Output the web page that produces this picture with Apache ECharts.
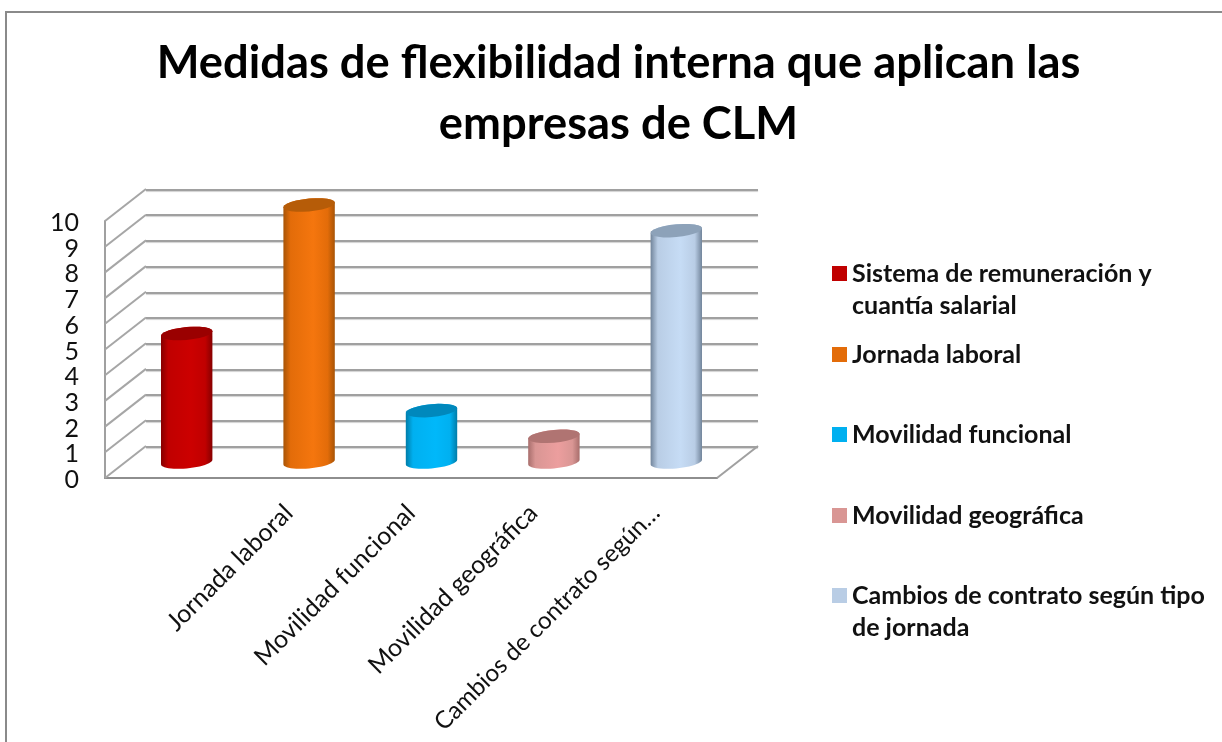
<!DOCTYPE html>
<html><head><meta charset="utf-8">
<style>html,body{margin:0;padding:0;background:#fff}#c{width:1222px;height:742px}</style>
<script src="https://cdn.jsdelivr.net/npm/echarts@6/dist/echarts.min.js"></script>
</head><body><div id="c"></div>
<script>
const categories = ['Sistema de remuneración y cuantía salarial','Jornada laboral','Movilidad funcional','Movilidad geográfica','Cambios de contrato según tipo de jornada'];
const values = [5, 10, 2, 1, 9];
const tickLabels = ['', '{a|Jornada laboral}', '{a|Movilidad funcional}', '{a|Movilidad geográfica}', '{b|Cambios de contrato según…}'];
const legendLabels = ['\nSistema de remuneración y\ncuantía salarial','Jornada laboral','Movilidad funcional','Movilidad geográfica','\nCambios de contrato según tipo\nde jornada'];
const yTicks = [0,1,2,3,4,5,6,7,8,9,10];
const titleText = 'Medidas de flexibilidad interna que aplican las\nempresas de CLM';

const legendTops = [225.5, 338.5, 418.5, 499.5, 547.5];
const swatch = ['#C00000','#E36C09','#00B0F0','#D99694','#B9CDE5'];
const bright = ['#CC0000','#F5760E','#00B8FA','#EC9E9E','#C6DCF5'];
const edge   = ['#860000','#A85406','#007CA8','#A86E6C','#72859B'];
const lid    = ['#9A0000','#B65C08','#0088BC','#B07472','#8DA2B9'];

const DEPTH_X = 41, DEPTH_Y = -32;   // wall offset of the oblique projection
const RX = 25.7, RY = 6.4, TILT = 0.09;

function arc(cx, cy, a0, a1) {
  const pts = [];
  for (let k = 0; k <= 24; k++) {
    const t = a0 + (a1 - a0) * k / 24;
    const dx = RX * Math.cos(t);
    pts.push([cx + dx, cy + RY * Math.sin(t) - TILT * dx]);
  }
  return pts;
}
function cylinder(params, api) {
  const i = api.value(0), v = api.value(1), s = params.seriesIndex - 1;
  const b = api.coord([i, 0]), t = api.coord([i, v]);
  const cx = b[0] + DEPTH_X / 2, by = b[1] + DEPTH_Y / 2, ty = t[1] + DEPTH_Y / 2;
  const body = arc(cx, by, 0, Math.PI).concat(arc(cx, ty, Math.PI, 2 * Math.PI));
  const fill = {
    type: 'linear', x: 0, y: 0, x2: 1, y2: 0,
    colorStops: [
      {offset: 0, color: edge[s]}, {offset: 0.14, color: swatch[s]},
      {offset: 0.58, color: bright[s]}, {offset: 0.86, color: swatch[s]},
      {offset: 1, color: edge[s]}
    ]
  };
  return {type: 'group', children: [
    {type: 'polygon', shape: {points: body}, style: {fill}},
    {type: 'polygon', shape: {points: arc(cx, ty, 0, 2 * Math.PI)}, style: {fill: lid[s]}}
  ]};
}
function sideWall(params, api) {
  const cs = params.coordSys;
  const y = api.coord([0, api.value(0)])[1];
  return {type: 'line', shape: {x1: cs.x, y1: y, x2: cs.x + DEPTH_X, y2: y + DEPTH_Y},
    style: {stroke: '#a6a6a6', lineWidth: 2}};
}
function floorEdge(params, api) {
  const cs = params.coordSys;
  const y = api.coord([0, 0])[1], x = cs.x + cs.width;
  return {type: 'line', shape: {x1: x, y1: y, x2: x + DEPTH_X, y2: y + DEPTH_Y},
    style: {stroke: '#a0a0a0', lineWidth: 2}};
}

const font = 'Lato, Carlito, Calibri, sans-serif';
const chart = echarts.init(document.getElementById('c'), null, {renderer: 'canvas'});
chart.setOption({
  animation: false,
  backgroundColor: '#fff',
  title: {
    text: titleText, left: 613.5, top: 28, textAlign: 'center',
    textStyle: {fontFamily: font, fontWeight: 'bold', fontSize: 45.3, lineHeight: 61, color: '#000'}
  },
  legend: categories.map((name, i) => ({
    show: true, orient: 'vertical', left: 832, top: legendTops[i],
    data: [name], icon: 'rect', itemWidth: 15, itemHeight: 15, itemGap: 0, padding: 0,
    selectedMode: false,
    formatter: () => legendLabels[i],
    textStyle: {fontFamily: font, fontWeight: 'bold', fontSize: 25, lineHeight: 32, color: '#111'}
  })),
  grid: [
    {left: 105, top: 221, width: 612, height: 257},
    {left: 146, top: 189.3, width: 612, height: 257.4}
  ],
  xAxis: [
    {gridIndex: 0, type: 'category', data: categories, boundaryGap: true,
     axisLine: {show: true, lineStyle: {color: '#8e8e8e', width: 2}}, axisTick: {show: false},
     axisLabel: {interval: (i) => i > 0, rotate: 45, margin: 31, fontFamily: font, color: '#111',
       formatter: (v, i) => tickLabels[i],
       rich: {a: {fontFamily: font, fontSize: 25, color: '#111'}, b: {fontFamily: font, fontSize: 24.2, color: '#111'}}}},
    {gridIndex: 1, type: 'category', data: categories, show: false}
  ],
  yAxis: [
    {gridIndex: 0, type: 'value', min: 0, max: 10, interval: 1,
     axisLine: {show: true, lineStyle: {color: '#a0a0a0', width: 2}}, axisTick: {show: false}, splitLine: {show: false},
     axisLabel: {margin: 26, fontFamily: font, color: '#111', showMinLabel: true, showMaxLabel: true, hideOverlap: false,
       formatter: (v) => '{n|' + v + '}',
       rich: {n: {fontFamily: font, fontSize: 25, color: '#111', padding: [4, 0, 0, 0]}}}},
    {gridIndex: 1, type: 'value', min: 0, max: 10, interval: 1,
     axisLine: {show: false}, axisTick: {show: false}, axisLabel: {show: false},
     splitLine: {show: true, lineStyle: {color: '#a0a0a0', width: 2, shadowColor: 'rgba(0,0,0,.18)', shadowBlur: 1, shadowOffsetY: 1}}}
  ],
  tooltip: {show: false},
  series: [
    {type: 'custom', name: 'pared', xAxisIndex: 0, yAxisIndex: 0, silent: true, clip: false, z: 1,
     data: yTicks.map(v => [v]), encode: {y: 0}, renderItem: sideWall}
  ].concat(categories.map((name, i) => ({
    type: 'custom', name, xAxisIndex: 0, yAxisIndex: 0, clip: false, z: 3,
    itemStyle: {color: swatch[i]},
    data: [[i, values[i]]], encode: {x: 0, y: 1}, renderItem: cylinder
  }))).concat([
    {type: 'custom', name: 'suelo', xAxisIndex: 0, yAxisIndex: 0, silent: true, clip: false, z: 1,
     data: [[0]], encode: {y: 0}, renderItem: floorEdge}
  ]),
  graphic: [
    {type: 'polyline', silent: true, shape: {points: [[6, 742], [6, 12], [1222, 12]]},
     style: {stroke: '#8a8a8a', lineWidth: 2, fill: null}}
  ]
});
</script></body></html>
